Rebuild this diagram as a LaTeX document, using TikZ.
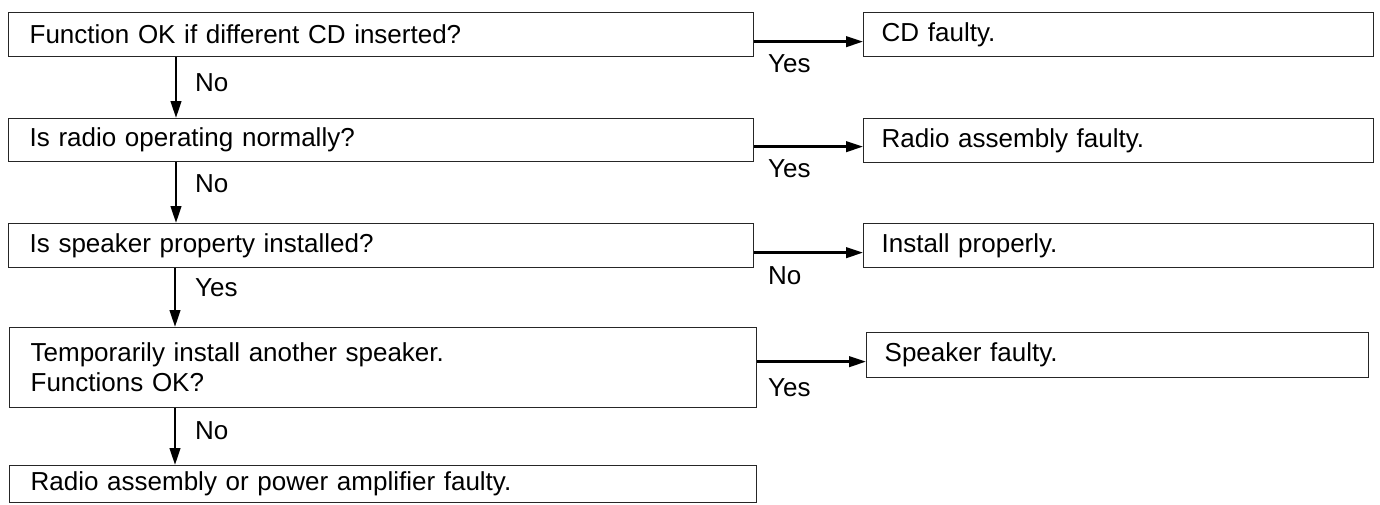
\documentclass[tikz,border=0pt]{standalone}
\usepackage{fontspec}
\setmainfont{Liberation Sans}
\usetikzlibrary{arrows.meta,calc}
\begin{document}
\begin{tikzpicture}[x=1pt,y=-1pt,
  font=\fontsize{26}{30}\selectfont,
  box/.style={draw=black!85,line width=1.3pt,anchor=north west,inner ysep=0pt,align=left},
  lbox/.style={box,inner xsep=21pt},
  rbox/.style={box,inner xsep=18pt},
  arr/.style={line width=2.4pt,-{Triangle[length=17pt,width=10.5pt]}},
  lab/.style={anchor=base west,inner sep=0pt}]
\useasboundingbox (0,0) rectangle (1380,504);
% left boxes
\node[lbox,minimum width=745pt,minimum height=44pt,text width=703pt] (L1) at (8,12) {Function OK if different CD inserted?};
\node[lbox,minimum width=745pt,minimum height=43pt,text width=703pt] (L2) at (8,118) {Is radio operating normally?};
\node[lbox,minimum width=745pt,minimum height=44pt,text width=703pt] (L3) at (8,223) {Is speaker property installed?};
\node[lbox,minimum width=747pt,minimum height=80pt,text width=705pt] (L4) at (9,327) {Temporarily install another speaker.\\Functions OK?};
\node[lbox,minimum width=747pt,minimum height=37pt,text width=705pt] (L5) at (9,465) {Radio assembly or power amplifier faulty.};
% right boxes
\node[rbox,minimum width=510pt,minimum height=44pt,text width=474pt] (R1) at (863,12) {CD faulty.};
\node[rbox,minimum width=510pt,minimum height=44pt,text width=474pt] (R2) at (863,118) {Radio assembly faulty.};
\node[rbox,minimum width=510pt,minimum height=44pt,text width=474pt] (R3) at (863,223) {Install properly.};
\node[rbox,minimum width=502pt,minimum height=45pt,text width=466pt] (R4) at (866,332) {Speaker faulty.};
% helper coordinates
\coordinate (d1) at (176,0);
\coordinate (d2) at (175,0);
% vertical arrows
\draw[arr] (L1.south -| d1) -- (L2.north -| d1);
\draw[arr] (L2.south -| d1) -- (L3.north -| d1);
\draw[arr] (L3.south -| d2) -- (L4.north -| d2);
\draw[arr] (L4.south -| d2) -- (L5.north -| d2);
% horizontal arrows
\draw[arr] ([yshift=-7pt]L1.east) -- ([yshift=-7pt]L1.east -| R1.west);
\draw[arr] ([yshift=-6.5pt]L2.east) -- ([yshift=-6.5pt]L2.east -| R2.west);
\draw[arr] ([yshift=-7pt]L3.east) -- ([yshift=-7pt]L3.east -| R3.west);
\draw[arr] ([yshift=6pt]L4.east) -- ([yshift=6pt]L4.east -| R4.west);
% labels
\node[lab] (n1) at (195,91) {No};
\node[lab] (n2) at (195,192) {No};
\node[lab] (n3) at (195,296) {Yes};
\node[lab] (n4) at (195,439) {No};
\node[lab] (y1) at (768,72) {Yes};
\node[lab] (y2) at (768,177) {Yes};
\node[lab] (y3) at (768,284) {No};
\node[lab] (y4) at (768,396) {Yes};
\end{tikzpicture}
\end{document}
